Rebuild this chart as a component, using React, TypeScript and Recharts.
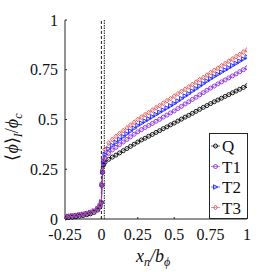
import React from "react";
import { LineChart, Line, XAxis, YAxis, ReferenceLine } from "recharts";

const xs = [
  -0.25, -0.225, -0.2, -0.175, -0.15, -0.125, -0.1, -0.075, -0.05, -0.025, -0.01, 0, 0.004, 0.008, 0.015,
  0.025, 0.05, 0.075, 0.1, 0.125, 0.15, 0.175, 0.2, 0.225, 0.25, 0.275, 0.3, 0.325, 0.35, 0.375, 0.4,
  0.425, 0.45, 0.475, 0.5, 0.525, 0.55, 0.575, 0.6, 0.625, 0.65, 0.675, 0.7, 0.725, 0.75, 0.775, 0.8,
  0.825, 0.85, 0.875, 0.9, 0.925, 0.95, 0.975, 1.0,
];

const qVals = [
  0.005, 0.007, 0.009, 0.011, 0.014, 0.017, 0.021, 0.026, 0.033, 0.045, 0.06, 0.082, 0.17, 0.235, 0.272,
  0.285, 0.3, 0.311, 0.321, 0.332, 0.343, 0.354, 0.365, 0.376, 0.387, 0.397, 0.406, 0.416, 0.425, 0.435, 0.444,
  0.454, 0.463, 0.473, 0.482, 0.492, 0.502, 0.512, 0.521, 0.531, 0.541, 0.551, 0.561, 0.57, 0.58, 0.589, 0.598,
  0.607, 0.616, 0.625, 0.634, 0.643, 0.652, 0.661, 0.67,
];

const t1Vals = [
  0.012, 0.014, 0.016, 0.018, 0.021, 0.024, 0.028, 0.033, 0.04, 0.052, 0.065, 0.085, 0.17, 0.235, 0.28,
  0.305, 0.33, 0.347, 0.36, 0.374, 0.387, 0.4, 0.413, 0.426, 0.438, 0.449, 0.46, 0.47, 0.48, 0.491, 0.501,
  0.512, 0.522, 0.533, 0.543, 0.555, 0.566, 0.578, 0.589, 0.601, 0.612, 0.624, 0.635, 0.647, 0.658, 0.668, 0.679,
  0.689, 0.699, 0.709, 0.719, 0.729, 0.74, 0.75, 0.76,
];

const t2Vals = [
  0.012, 0.014, 0.016, 0.018, 0.021, 0.024, 0.028, 0.033, 0.04, 0.052, 0.066, 0.086, 0.172, 0.237, 0.29,
  0.325, 0.352, 0.37, 0.385, 0.4, 0.414, 0.428, 0.442, 0.456, 0.47, 0.481, 0.492, 0.503, 0.514, 0.525, 0.536,
  0.547, 0.558, 0.569, 0.58, 0.593, 0.605, 0.618, 0.63, 0.643, 0.655, 0.668, 0.68, 0.693, 0.705, 0.716, 0.727,
  0.738, 0.749, 0.76, 0.771, 0.782, 0.793, 0.804, 0.815,
];

const t3Vals = [
  0.013, 0.015, 0.017, 0.019, 0.022, 0.025, 0.029, 0.034, 0.041, 0.053, 0.067, 0.087, 0.174, 0.24, 0.3,
  0.35, 0.382, 0.4, 0.415, 0.43, 0.444, 0.458, 0.472, 0.486, 0.5, 0.512, 0.524, 0.535, 0.547, 0.559, 0.57,
  0.582, 0.594, 0.605, 0.617, 0.629, 0.641, 0.652, 0.664, 0.676, 0.688, 0.7, 0.711, 0.723, 0.735, 0.747, 0.758,
  0.77, 0.781, 0.793, 0.804, 0.816, 0.827, 0.839, 0.85,
];

const seriesNames = ["Q", "T1", "T2", "T3"];
const seriesColors = ["#000000", "#8a2be2", "#1f1fff", "#e05555"];
const seriesMarkers = ["circle", "circle", "triangle", "diamond"];
const xTicks = [-0.25, 0, 0.25, 0.5, 0.75, 1];
const yTicks = [0, 0.25, 0.5, 0.75, 1];
const refLinesX = [0, 0.02];

const data = xs.map((x, i) => ({ x, Q: qVals[i], T1: t1Vals[i], T2: t2Vals[i], T3: t3Vals[i] }));

const FONT = "Liberation Serif";
const AXIS = "#262626";

function Marker({ kind, cx, cy, color }: { kind: string; cx: number; cy: number; color: string }) {
  if (cx == null || cy == null || isNaN(cx) || isNaN(cy)) return <g />;
  const s = 2;
  if (kind === "circle") {
    return <circle cx={cx} cy={cy} r={s} fill="none" stroke={color} strokeWidth={0.9} />;
  }
  if (kind === "triangle") {
    return (
      <polygon
        points={`${cx - s},${cy - s * 1.1} ${cx + s * 1.2},${cy} ${cx - s},${cy + s * 1.1}`}
        fill="none"
        stroke={color}
        strokeWidth={0.9}
      />
    );
  }
  return (
    <polygon
      points={`${cx},${cy - s * 1.2} ${cx + s},${cy} ${cx},${cy + s * 1.2} ${cx - s},${cy}`}
      fill="none"
      stroke={color}
      strokeWidth={0.9}
    />
  );
}

const emptyTick = () => <g />;
const tickStyle = { fill: "#111", fontSize: 16, fontFamily: FONT };

export default function App() {
  return (
    <div style={{ position: "absolute", left: 0, top: 0, width: 273, height: 272, background: "#fff" }}>
      <LineChart
        width={273}
        height={272}
        data={data}
        margin={{ top: 20, right: 26, left: 0, bottom: 0 }}
      >
        <XAxis
          dataKey="x"
          type="number"
          domain={[-0.25, 1]}
          ticks={xTicks}
          allowDataOverflow
          height={53}
          stroke={AXIS}
          tickSize={-2}
          tickMargin={12}
          tick={tickStyle}
          label={{
            content: () => (
              <text x={153} y={262} textAnchor="middle" fontFamily={FONT} fontSize={18} fontStyle="italic" fill="#111">
                <tspan>x</tspan>
                <tspan dy={4} fontSize={12}>n</tspan>
                <tspan dy={-4}>/b</tspan>
                <tspan dy={4} fontSize={12}>ϕ</tspan>
              </text>
            ),
          }}
        />
        <XAxis
          xAxisId="top"
          dataKey="x"
          type="number"
          orientation="top"
          domain={[-0.25, 1]}
          ticks={xTicks}
          height={0}
          stroke={AXIS}
          tickSize={-2}
          tick={emptyTick}
        />
        <YAxis
          type="number"
          domain={[0, 1]}
          ticks={yTicks}
          width={65}
          stroke={AXIS}
          tickSize={-2}
          tickMargin={9}
          tick={tickStyle}
          label={{
            content: () => (
              <text
                x={0}
                y={0}
                transform="translate(18,137) rotate(-90)"
                textAnchor="middle"
                fontFamily={FONT}
                fontSize={18}
                fill="#111"
              >
                <tspan>⟨</tspan>
                <tspan fontStyle="italic">ϕ</tspan>
                <tspan>⟩</tspan>
                <tspan dy={4} fontSize={12} fontStyle="italic">I</tspan>
                <tspan dy={-4}>/</tspan>
                <tspan fontStyle="italic">ϕ</tspan>
                <tspan dy={4} fontSize={12} fontStyle="italic">c</tspan>
              </text>
            ),
          }}
        />
        <YAxis
          yAxisId="right"
          orientation="right"
          type="number"
          domain={[0, 1]}
          ticks={yTicks}
          width={0}
          stroke={AXIS}
          tickSize={-2}
          tick={emptyTick}
        />
        <ReferenceLine x={refLinesX[0]} stroke="#000" strokeWidth={0.9} strokeDasharray="3 2" />
        <ReferenceLine x={refLinesX[1]} stroke="#000" strokeWidth={0.9} strokeDasharray="1.5 1" />
        {seriesNames.map((name, k) => (
          <Line
            key={name}
            dataKey={name}
            stroke={seriesColors[k]}
            strokeWidth={0.6}
            isAnimationActive={false}
            dot={(p: any) => (
              <Marker key={`${name}-${p.index}`} kind={seriesMarkers[k]} cx={p.cx} cy={p.cy} color={seriesColors[k]} />
            )}
            activeDot={false}
          />
        ))}
      </LineChart>
      <svg
        style={{ position: "absolute", left: 209, top: 133 }}
        width={39}
        height={86}
      >
        <rect x={0.5} y={0.5} width={38} height={85} fill="#fff" stroke={AXIS} strokeWidth={1} />
        {seriesNames.map((name, k) => {
          const cy = 13 + k * 20.5;
          return (
            <g key={name}>
              <line x1={2} x2={11} y1={cy} y2={cy} stroke={seriesColors[k]} strokeWidth={0.6} />
              <Marker kind={seriesMarkers[k]} cx={6.5} cy={cy} color={seriesColors[k]} />
              <text x={13} y={cy + 6} fontFamily={FONT} fontSize={17} fill="#111">
                {name}
              </text>
            </g>
          );
        })}
      </svg>
    </div>
  );
}
